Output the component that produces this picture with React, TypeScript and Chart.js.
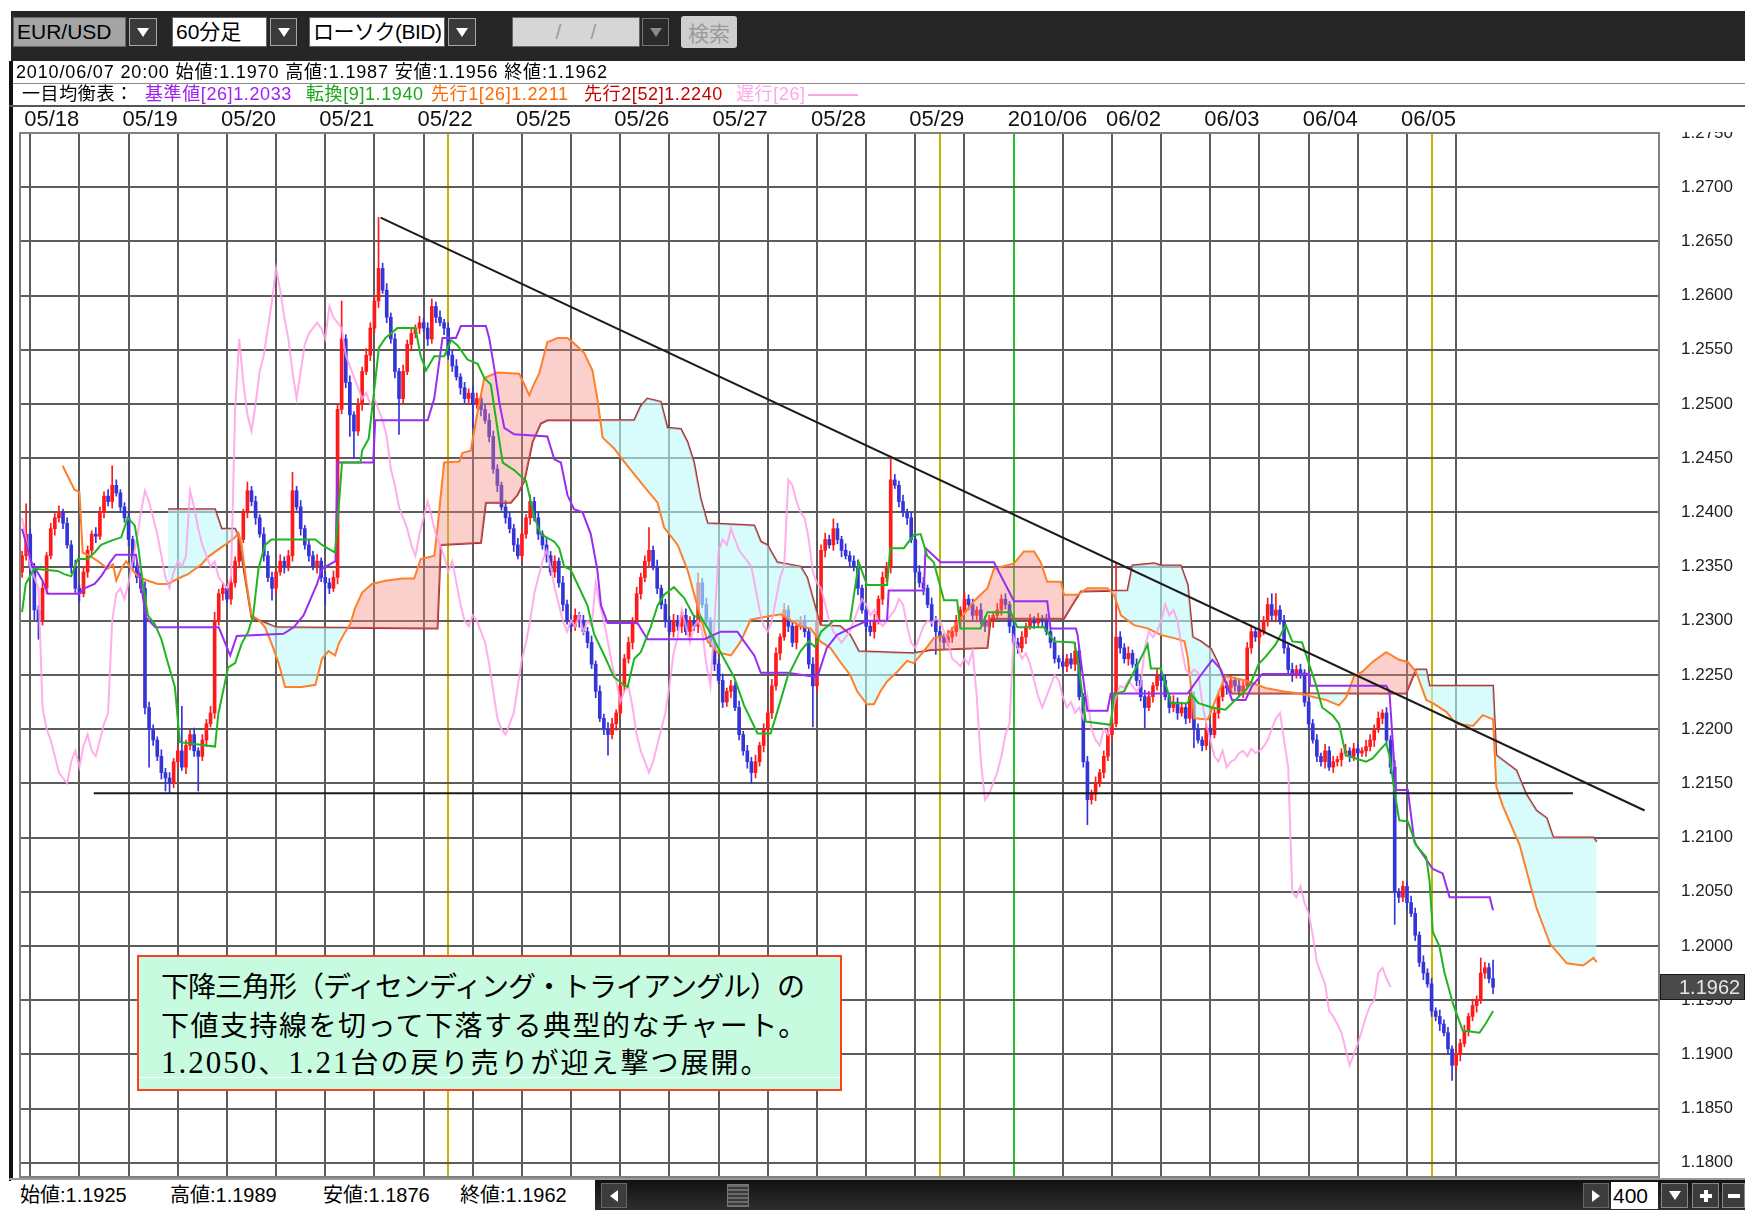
import React, { useEffect, useRef } from 'react';
import { Chart, registerables } from 'chart.js';

Chart.register(...registerables);

// ---------------- data (prices in 1/10000) ----------------
const FIRST_OPEN = 12345;
const closes = [
  12360, 12380, 12350, 12310, 12300, 12330, 12360, 12385, 12395, 12400,
  12390, 12370, 12350, 12330, 12325, 12345, 12365, 12380, 12378, 12400,
  12415, 12410, 12425, 12418, 12405, 12395, 12375, 12350, 12340, 12330,
  12220, 12200, 12190, 12175, 12160, 12155, 12150, 12170, 12180, 12165,
  12185, 12195, 12180, 12175, 12190, 12205, 12215, 12300, 12325, 12330,
  12320, 12335, 12355, 12375, 12400, 12420, 12410, 12395, 12380, 12360,
  12340, 12330, 12345, 12355, 12350, 12360, 12420, 12405, 12385, 12370,
  12360, 12350, 12355, 12340, 12335, 12330, 12340, 12495, 12560, 12520,
  12490, 12475, 12500, 12530, 12545, 12570, 12595, 12625, 12605, 12580,
  12560, 12530, 12505, 12530, 12555, 12565, 12570, 12575, 12570, 12560,
  12590, 12580, 12575, 12570, 12545, 12535, 12525, 12515, 12505, 12510,
  12500, 12505, 12495, 12485, 12470, 12440, 12425, 12405, 12395, 12385,
  12370, 12360, 12380, 12395, 12410, 12395, 12380, 12370, 12360, 12345,
  12355, 12335, 12315, 12300, 12295, 12305, 12300, 12290, 12280, 12260,
  12235, 12210, 12200, 12195, 12205, 12215, 12240, 12265, 12280, 12300,
  12325, 12340, 12355, 12365, 12350, 12330, 12315, 12300, 12290, 12300,
  12295, 12305, 12290, 12300, 12295, 12335, 12315, 12300, 12280, 12260,
  12245, 12225, 12235, 12240, 12220, 12195, 12180, 12170, 12160, 12170,
  12185, 12200, 12215, 12240, 12270, 12285, 12310, 12295, 12280, 12295,
  12300, 12290, 12260, 12240, 12300, 12365, 12375, 12370, 12385, 12375,
  12365, 12360, 12355, 12350, 12330, 12310, 12295, 12290, 12300, 12320,
  12340, 12350, 12430, 12425, 12410, 12400, 12395, 12375, 12345, 12335,
  12330, 12315, 12300, 12290, 12285, 12280, 12285, 12290, 12300, 12310,
  12320, 12315, 12305, 12310, 12300, 12295, 12300, 12305, 12310, 12320,
  12315, 12295, 12280, 12275, 12285, 12295, 12300, 12298, 12302, 12300,
  12290, 12280, 12265, 12262, 12258, 12265, 12260, 12272, 12230, 12170,
  12135, 12140, 12150, 12160, 12175, 12195, 12205, 12285, 12275, 12265,
  12270, 12260, 12245, 12230, 12220, 12230, 12240, 12250, 12245, 12230,
  12220, 12225, 12215, 12220, 12210, 12230, 12200, 12190, 12185, 12200,
  12195, 12215, 12230, 12240, 12238, 12245, 12240, 12235, 12240, 12275,
  12290, 12285, 12290, 12300, 12315, 12305, 12310, 12300, 12275, 12255,
  12250, 12255, 12252, 12225, 12205, 12190, 12175, 12170, 12180, 12165,
  12170, 12172, 12178, 12180, 12175, 12182, 12178, 12180, 12184, 12190,
  12200, 12210, 12215, 12190, 12165, 12050, 12045, 12055, 12040, 12030,
  12010, 11985, 11975, 11965, 11940, 11935, 11928, 11920, 11905, 11890,
  11900, 11910, 11922, 11935, 11945, 11950, 11975, 11980, 11970, 11962,
];
const upperWick = [
  4, 28, 5, 3, 4, 6, 3, 5, 4, 6, 3, 5, 4, 6, 3, 5, 4, 3, 6, 5,
  4, 6, 18, 5, 3, 4, 6, 3, 5, 4, 6, 5, 4, 3, 6, 4, 5, 3, 4, 41,
  5, 4, 6, 3, 5, 4, 6, 8, 4, 5, 3, 6, 4, 5, 3, 8, 4, 5, 3, 6,
  4, 5, 3, 6, 4, 5, 17, 4, 6, 3, 5, 4, 6, 3, 5, 4, 6, 5, 35, 4,
  6, 3, 5, 4, 6, 5, 4, 47, 5, 6, 4, 5, 3, 6, 4, 5, 3, 6, 4, 5,
  7, 4, 6, 3, 5, 4, 6, 3, 5, 4, 6, 5, 3, 4, 6, 5, 4, 3, 6, 5,
  4, 6, 5, 3, 6, 4, 5, 3, 6, 4, 5, 3, 6, 4, 5, 6, 3, 5, 4, 6,
  3, 5, 4, 6, 5, 3, 6, 4, 5, 3, 6, 4, 5, 21, 4, 6, 3, 5, 4, 6,
  5, 3, 6, 4, 5, 9, 4, 6, 3, 5, 4, 6, 3, 5, 4, 6, 3, 5, 4, 6,
  3, 5, 4, 6, 5, 3, 6, 4, 5, 6, 4, 5, 3, 6, 4, 5, 6, 4, 9, 5,
  3, 6, 4, 5, 6, 3, 5, 4, 6, 3, 5, 4, 22, 5, 4, 6, 3, 5, 4, 6,
  5, 3, 6, 4, 5, 3, 6, 4, 5, 3, 6, 4, 5, 3, 6, 4, 5, 3, 6, 4,
  5, 3, 6, 4, 5, 3, 6, 4, 5, 3, 6, 4, 5, 3, 6, 4, 5, 8, 4, 3,
  5, 4, 6, 3, 5, 4, 6, 69, 5, 4, 6, 3, 5, 4, 6, 5, 3, 6, 4, 5,
  3, 6, 4, 5, 3, 6, 4, 5, 3, 6, 4, 5, 3, 6, 4, 5, 3, 6, 4, 5,
  6, 3, 5, 4, 6, 10, 15, 4, 5, 3, 6, 4, 5, 3, 6, 4, 5, 3, 6, 4,
  5, 3, 4, 6, 3, 5, 4, 3, 6, 5, 4, 6, 3, 5, 4, 6, 3, 5, 4, 6,
  5, 3, 6, 4, 5, 3, 6, 4, 5, 3, 6, 4, 5, 3, 6, 4, 14, 5, 4, 17,
];
const lowerWick = [
  5, 4, 6, 9, 17, 4, 5, 3, 6, 4, 5, 3, 6, 4, 7, 3, 5, 4, 6, 3,
  5, 4, 6, 3, 5, 4, 6, 3, 5, 4, 6, 35, 5, 4, 6, 12, 9, 4, 5, 3,
  6, 4, 5, 32, 4, 6, 3, 5, 4, 6, 3, 5, 4, 6, 3, 5, 4, 6, 3, 5,
  4, 11, 5, 3, 6, 4, 5, 3, 6, 4, 5, 3, 6, 4, 20, 5, 3, 6, 4, 5,
  20, 25, 4, 6, 3, 5, 4, 6, 3, 5, 4, 6, 33, 5, 3, 6, 4, 5, 3, 6,
  4, 5, 3, 6, 4, 5, 3, 6, 4, 5, 22, 4, 6, 3, 5, 4, 6, 3, 5, 4,
  6, 3, 5, 4, 6, 3, 5, 4, 6, 3, 5, 4, 6, 3, 5, 4, 6, 3, 5, 4,
  6, 3, 5, 19, 4, 6, 3, 5, 4, 6, 3, 5, 4, 6, 3, 5, 4, 6, 3, 5,
  4, 6, 3, 5, 4, 6, 3, 5, 4, 6, 3, 5, 4, 6, 3, 5, 4, 6, 10, 5,
  4, 6, 3, 5, 4, 6, 3, 5, 4, 6, 3, 5, 4, 38, 5, 4, 6, 3, 5, 4,
  6, 3, 5, 4, 6, 3, 5, 4, 6, 3, 5, 4, 6, 3, 5, 4, 6, 3, 5, 4,
  6, 3, 5, 21, 4, 6, 3, 5, 4, 6, 3, 5, 4, 6, 3, 5, 4, 6, 3, 5,
  4, 6, 3, 5, 4, 6, 3, 5, 4, 6, 3, 5, 4, 6, 3, 5, 4, 6, 3, 5,
  23, 4, 6, 3, 5, 4, 6, 3, 5, 4, 6, 3, 5, 4, 19, 3, 5, 4, 6, 3,
  5, 4, 6, 3, 5, 4, 17, 3, 5, 4, 6, 3, 5, 4, 6, 3, 5, 4, 6, 3,
  5, 4, 6, 3, 5, 4, 6, 3, 5, 4, 6, 3, 5, 4, 6, 3, 5, 4, 6, 3,
  5, 4, 6, 3, 5, 4, 6, 3, 5, 4, 6, 3, 5, 4, 6, 30, 5, 4, 6, 3,
  5, 4, 6, 3, 5, 4, 6, 3, 5, 14, 4, 6, 3, 5, 4, 6, 3, 5, 4, 6,
];
const CHIKOU_SHIFT = 25;

// Ichimoku lines: [bar index, price]
const tenkanPts = [
  [0, 1.2308], [0.9, 1.2334], [3, 1.2348], [8.7, 1.2346], [10.3, 1.2343], [12, 1.2341], [13.6, 1.2357], [16, 1.2357],
  [17.7, 1.2363], [19.3, 1.237], [21.8, 1.2374], [24.2, 1.2377], [25.8, 1.2395], [27.5, 1.2388], [28.3, 1.237],
  [29.5, 1.2334], [30.7, 1.2305], [32.4, 1.2297], [34, 1.2283], [35.6, 1.2261], [37.3, 1.2239], [38.5, 1.2188],
  [47.1, 1.2184], [47.9, 1.2214], [50.3, 1.2257], [52, 1.2261], [53.6, 1.2279], [55.2, 1.229], [56.4, 1.2305],
  [57.7, 1.2348], [59.3, 1.237], [60.9, 1.2375], [71.6, 1.2375], [73.2, 1.237], [76.4, 1.2363], [77.3, 1.2406],
  [78.1, 1.2446], [82.6, 1.2446], [83, 1.2457], [84.6, 1.2468], [85.8, 1.2508], [87.1, 1.2552], [88.7, 1.2561],
  [91.6, 1.257], [96, 1.257], [97.3, 1.2544], [98.6, 1.2531], [100.6, 1.2544], [103, 1.2544], [104.7, 1.2559],
  [106.3, 1.2554], [108.7, 1.2541], [111.2, 1.2537], [112.8, 1.2524], [114.4, 1.2518], [116, 1.2478], [117.3, 1.2446],
  [120.1, 1.2439], [123, 1.2429], [125, 1.2396], [126.6, 1.238], [129.9, 1.2373], [131.1, 1.2367], [132.3, 1.235],
  [133.9, 1.2347], [136.4, 1.2327], [138, 1.2314], [139.6, 1.2288], [142.1, 1.2268], [144.5, 1.2248], [146.5, 1.2242],
  [147.8, 1.2239], [149.4, 1.2265], [151, 1.2271], [153.4, 1.2294], [155.1, 1.2314], [156.7, 1.2324], [159.1, 1.2331],
  [161.6, 1.2321], [164, 1.2304], [165.6, 1.2304], [168.1, 1.2288], [171.3, 1.2265], [173.8, 1.2248], [176.2, 1.2222],
  [179.5, 1.2196], [182.7, 1.2196], [184.3, 1.2216], [186.8, 1.2248], [190, 1.2272], [192, 1.2281], [193.5, 1.2276],
  [195, 1.229], [198.1, 1.23], [202.1, 1.23], [204.2, 1.2354], [206.2, 1.2333], [211.1, 1.2333], [211.9, 1.2367],
  [215.2, 1.2367], [217.6, 1.2379], [219.3, 1.238], [220.9, 1.236], [222.5, 1.2354], [225, 1.2319], [228.2, 1.2319],
  [229, 1.2293], [233.9, 1.2293], [235.6, 1.2308], [241.3, 1.2308], [242.9, 1.2294], [249.4, 1.2294], [251.9, 1.2281],
  [256.8, 1.228], [257.6, 1.2266], [259.6, 1.2207], [265.7, 1.2204], [266.5, 1.2232], [269, 1.2235], [274.7, 1.2278],
  [275.5, 1.2256], [277.9, 1.2256], [279.6, 1.2235], [280.4, 1.2224], [284.5, 1.2224], [285.3, 1.2232], [287.1, 1.2224],
  [290.4, 1.222], [293.7, 1.2218], [296.1, 1.2227], [298.6, 1.2236], [299.8, 1.2242], [301.8, 1.226], [303.5, 1.2267],
  [305.9, 1.2278], [308.4, 1.2296], [310, 1.2281], [312.4, 1.228], [314.1, 1.226], [315.7, 1.2242], [317.3, 1.222],
  [319.8, 1.2213], [321.4, 1.2205], [323.1, 1.2176], [325.5, 1.2173], [328, 1.217], [329.6, 1.2173], [331.2, 1.218],
  [332.9, 1.2187], [333.7, 1.2176], [334.9, 1.2144], [336.1, 1.2116], [338.2, 1.2115], [340.2, 1.2093], [342.7, 1.2082],
  [343.5, 1.206], [344.3, 1.2013], [345.9, 1.2], [347.1, 1.1976], [349.2, 1.1947], [351.6, 1.1922], [355.7, 1.192],
  [357.3, 1.1929], [359, 1.194],
];
const kijunPts = [
  [0, 1.2385], [2.2, 1.2355], [5, 1.2337], [6.3, 1.2325], [14, 1.2325], [15.2, 1.233], [17.7, 1.2334], [19.3, 1.2341],
  [21.7, 1.2355], [22.9, 1.2361], [27.8, 1.2361], [30.3, 1.2303], [32.5, 1.2294], [48, 1.2294], [50.8, 1.2268],
  [52.4, 1.2286], [63.8, 1.2288], [66.3, 1.2294], [68.7, 1.2305], [70.3, 1.2319], [72, 1.2334], [73.2, 1.2348],
  [76.5, 1.2355], [77, 1.2446], [85.7, 1.2446], [86.2, 1.2485], [99, 1.2485], [100.6, 1.2505], [102.6, 1.2561],
  [105.9, 1.2561], [107.1, 1.2572], [113.2, 1.2572], [114, 1.2561], [115.2, 1.2534], [116.5, 1.2501], [117.7, 1.2478],
  [120.1, 1.2472], [128.2, 1.247], [129.9, 1.2449], [131.5, 1.2446], [133.1, 1.2416], [134.7, 1.2403], [136.8, 1.24],
  [138.8, 1.238], [140.4, 1.2347], [141.3, 1.2314], [142.9, 1.2298], [150.2, 1.2298], [152.6, 1.2283], [166.5, 1.2283],
  [170.5, 1.229], [174.6, 1.229], [176.2, 1.2281], [178.7, 1.2268], [180.3, 1.2252], [186.8, 1.2252], [194.1, 1.2248],
  [196.4, 1.2275], [198.9, 1.2287], [202.1, 1.2293], [206.2, 1.23], [211.1, 1.23], [211.5, 1.2328], [220.1, 1.2328],
  [220.5, 1.2367], [224.2, 1.2354], [237.2, 1.2354], [238, 1.2348], [242.1, 1.2318], [250.2, 1.2318], [251, 1.2293],
  [257.2, 1.2293], [257.6, 1.2287], [260, 1.2217], [264.9, 1.2217], [265.7, 1.2233], [284.5, 1.2233], [287.7, 1.225],
  [290.5, 1.2264], [292.6, 1.2255], [295.3, 1.2227], [298.6, 1.2227], [300.2, 1.224], [302.7, 1.2251], [314.1, 1.2251],
  [314.3, 1.224], [332.9, 1.224], [333.7, 1.2235], [335.3, 1.2144], [338.2, 1.2144], [339.8, 1.2096], [341, 1.2089],
  [344.3, 1.2071], [346.7, 1.2067], [348.4, 1.2045], [358.2, 1.2045], [359, 1.2033],
];
const senkouAPts = [
  [9.9, 1.2443], [12.8, 1.2421], [14, 1.2419], [14.8, 1.2363], [16.9, 1.2359], [18.5, 1.2355], [20.9, 1.2348],
  [22.2, 1.2352], [23, 1.2337], [24.2, 1.2348], [25.4, 1.2355], [26.7, 1.2348], [28.3, 1.2341], [30.7, 1.2337],
  [33.2, 1.2334], [35.6, 1.2334], [38.1, 1.2339], [40.5, 1.2343], [43.8, 1.2352], [45.4, 1.2359], [48.7, 1.2368],
  [50.3, 1.2372], [52, 1.2377], [52.8, 1.2381], [53.6, 1.237], [54.8, 1.2334], [56, 1.2305], [57.7, 1.2301],
  [59.3, 1.2294], [60.9, 1.2279], [62.6, 1.2261], [64.2, 1.2239], [68.3, 1.2239], [71.6, 1.2241], [73.2, 1.2265],
  [74.8, 1.2272], [76.4, 1.2268], [77.3, 1.2279], [78.9, 1.229], [80.1, 1.2297], [81.3, 1.2312], [83, 1.2326],
  [85.4, 1.2334], [88.7, 1.2337], [92.8, 1.2339], [95.7, 1.2339], [97.3, 1.2357], [100.6, 1.236], [101.4, 1.2386],
  [103, 1.2446], [106.7, 1.2447], [107.5, 1.2455], [109.5, 1.2457], [110.8, 1.2485], [112.8, 1.2524], [116, 1.2529],
  [121.3, 1.2528], [122.6, 1.2518], [123.8, 1.2508], [125, 1.2519], [126.2, 1.2528], [128.2, 1.2557], [130.7, 1.2561],
  [133.1, 1.2561], [134.7, 1.2556], [137.2, 1.2547], [139.2, 1.2531], [140.4, 1.2505], [141.7, 1.2469], [144.5, 1.2459],
  [146.5, 1.2449], [148.6, 1.2439], [151.8, 1.2424], [155.1, 1.2409], [156.7, 1.2386], [160, 1.237], [162.4, 1.2347],
  [164.8, 1.2314], [167.3, 1.2281], [169.7, 1.2271], [173, 1.2268], [175.4, 1.2281], [177.8, 1.2301], [181.9, 1.2304],
  [185.2, 1.2306], [189.9, 1.2295], [192.4, 1.2293], [194.8, 1.2281], [197.3, 1.2275], [199.7, 1.2262], [202.1, 1.225],
  [203.8, 1.2235], [206.2, 1.2223], [207.9, 1.2223], [209.5, 1.2235], [211.1, 1.2244], [213.6, 1.2253], [216, 1.2263],
  [217.6, 1.2261], [220.1, 1.2272], [222.5, 1.2284], [225.8, 1.2287], [229, 1.2302], [232.3, 1.2318], [235.6, 1.233],
  [237.2, 1.2348], [242.1, 1.2353], [244.5, 1.2364], [247, 1.2364], [248.6, 1.2354], [250.2, 1.2336], [253.5, 1.2336],
  [254.3, 1.2324], [257.6, 1.2324], [260, 1.233], [264.9, 1.233], [266.5, 1.2324], [268.2, 1.2305], [271.4, 1.2296],
  [274.7, 1.2293], [277.9, 1.2287], [281.2, 1.2284], [283.7, 1.2281], [284.5, 1.2266], [286.1, 1.221], [289.4, 1.2209],
  [291.8, 1.2232], [293.7, 1.2249], [298.6, 1.2245], [303.5, 1.2238], [307.6, 1.2235], [311.6, 1.2233], [318.2, 1.2227],
  [321.4, 1.2222], [323.1, 1.2229], [325.1, 1.2249], [327.1, 1.2253], [329.6, 1.2262], [332.9, 1.2271], [336.1, 1.2264],
  [338.2, 1.2262], [340.2, 1.2253], [342.7, 1.2227], [344.3, 1.2224], [347.6, 1.2216], [350, 1.2205], [354.1, 1.2203],
  [356.5, 1.2213], [359, 1.2209], [359.8, 1.2147], [361.4, 1.2129], [365.5, 1.2093], [369.6, 1.2035], [372.9, 1.2002],
  [377, 1.1984], [381, 1.1982], [383.5, 1.1989], [384.3, 1.1985],
];
const senkouBPts = [
  [35.6, 1.2403], [47.1, 1.2403], [48.7, 1.2385], [52, 1.2385], [52.8, 1.2378], [56, 1.2303], [60.1, 1.2297],
  [62, 1.2294], [101.4, 1.2293], [102.2, 1.237], [112, 1.2372], [113.2, 1.2409], [119.3, 1.2409], [120.9, 1.2416],
  [122.6, 1.2429], [124.6, 1.2465], [126.6, 1.2482], [128.2, 1.2485], [149.4, 1.2485], [151, 1.2498], [152.6, 1.2505],
  [155.9, 1.2502], [157.5, 1.2478], [160.8, 1.2477], [162.4, 1.2465], [164, 1.2446], [165.6, 1.2413], [167.3, 1.239],
  [178.7, 1.2388], [180.3, 1.2373], [181.9, 1.237], [184.3, 1.2354], [190, 1.235], [191.6, 1.234], [193.2, 1.2318],
  [194.8, 1.2296], [199.7, 1.2295], [202.1, 1.2287], [204.2, 1.2272], [217.6, 1.227], [221.7, 1.2273], [235.6, 1.2275],
  [236.4, 1.2302], [254.3, 1.2302], [255.9, 1.2312], [258.4, 1.2327], [269.8, 1.2328], [271, 1.2351], [276.3, 1.2353],
  [277.9, 1.2351], [282.8, 1.2351], [284.5, 1.2333], [285.7, 1.2285], [287.7, 1.2281], [290.2, 1.2274], [292, 1.226],
  [292.9, 1.2249], [295.3, 1.2233], [337.8, 1.2233], [340.2, 1.2255], [342.7, 1.2255], [343.5, 1.224], [359, 1.224],
  [359.8, 1.2176], [362.2, 1.2169], [364.7, 1.2162], [367.1, 1.214], [369.6, 1.2125], [372.1, 1.2118], [373.7, 1.21],
  [383.5, 1.21], [384.3, 1.2096],
];
const trendLinePts = [[87.5, 1.2672], [396, 1.2125]];
const supportLinePts = [[17.5, 1.2141], [378.5, 1.2141]];

// axes
const X_MIN = -0.5;
const X_MAX = 399.5;
const Y_MIN = 1.17869;
const Y_MAX = 1.275;
const dayStarts = [2, 26, 50, 74, 98, 122, 146, 170, 194, 218, 242, 266, 290, 314, 338];
const dayLabels = ['05/18', '05/19', '05/20', '05/21', '05/22', '05/25', '05/26', '05/27', '05/28', '05/29', '2010/06', '06/02', '06/03', '06/04', '06/05'];
const gridTicks = [2, 14, 26, 38, 50, 62, 74, 86, 98, 110, 122, 134, 146, 158, 170, 182, 194, 206, 218, 230, 242, 254, 266, 278, 290, 302, 314, 326, 338, 350];
const weekMarks = [104, 224, 344];
const monthMark = 242;
const yTicks = [1.18, 1.185, 1.19, 1.195, 1.2, 1.205, 1.21, 1.215, 1.22, 1.225, 1.23, 1.235, 1.24, 1.245, 1.25, 1.255, 1.26, 1.265, 1.27, 1.275];

const RED = '#ff1a1a';
const BLUE = '#3434d8';
const SANS = '"Liberation Sans", Arial, "Noto Sans CJK JP", sans-serif';
const JP = '"Noto Sans CJK JP", "Noto Sans", sans-serif';

const Tri = ({ color = '#fff', dir = 'down', s = 6 }: any) => {
  const st: any = { width: 0, height: 0 };
  if (dir === 'down') Object.assign(st, { borderLeft: `${s}px solid transparent`, borderRight: `${s}px solid transparent`, borderTop: `${s + 3}px solid ${color}` });
  if (dir === 'left') Object.assign(st, { borderTop: `${s}px solid transparent`, borderBottom: `${s}px solid transparent`, borderRight: `${s + 2}px solid ${color}` });
  if (dir === 'right') Object.assign(st, { borderTop: `${s}px solid transparent`, borderBottom: `${s}px solid transparent`, borderLeft: `${s + 2}px solid ${color}` });
  return <div style={st} />;
};

const Btn = ({ left, top, w, h, bg = '#3a3a3a', border = '#a8a8a8', children }: any) => (
  <div style={{ position: 'absolute', left, top, width: w, height: h, boxSizing: 'border-box', background: bg, border: `1px solid ${border}`, display: 'flex', alignItems: 'center', justifyContent: 'center' }}>
    {children}
  </div>
);

const TextBox = ({ left, top, w, h, bg, color = '#000', size = 21, children, center = false, ls = 0 }: any) => (
  <div style={{ position: 'absolute', left, top, width: w, height: h, boxSizing: 'border-box', background: bg, color, fontSize: size, lineHeight: `${h - 2}px`, fontFamily: SANS, paddingLeft: center ? 0 : 3, textAlign: center ? 'center' : 'left', letterSpacing: ls, whiteSpace: 'nowrap', overflow: 'hidden', border: '1px solid #666' }}>
    {children}
  </div>
);

export default function App() {
  const canvasRef = useRef<HTMLCanvasElement>(null);

  useEffect(() => {
    const P = (v: number) => v / 10000;
    const opens = closes.map((c, i) => (i === 0 ? FIRST_OPEN : closes[i - 1]));
    const colors = closes.map((c, i) => (c >= opens[i] ? RED : BLUE));
    const bodies = closes.map((c, i) => ({ x: i, y: [P(opens[i]), P(c)] }));
    const wicks = closes.map((c, i) => ({
      x: i,
      y: [P(Math.min(opens[i], c) - lowerWick[i]), P(Math.max(opens[i], c) + upperWick[i])],
    }));
    const pts = (arr: number[][]) => arr.map(([x, y]) => ({ x, y }));
    const chikou = closes.map((c, i) => ({ x: i - CHIKOU_SHIFT, y: P(c) })).filter((p) => p.x >= 0);
    const lastClose = P(closes[closes.length - 1]);
    const xTicks = [...gridTicks, ...weekMarks].sort((a, b) => a - b);

    const lineDs = (data: any, color: string, order: number, extra: any = {}) => ({
      type: 'line', data, borderColor: color, borderWidth: 2, pointRadius: 0, tension: 0, order, fill: false, ...extra,
    });

    const overlay = {
      id: 'overlay',
      afterDraw(chart: any) {
        const { ctx, chartArea: a, scales } = chart;
        ctx.save();
        ctx.strokeStyle = '#808080';
        ctx.lineWidth = 2;
        ctx.strokeRect(a.left, a.top, a.right - a.left, a.bottom - a.top);
        const py = Math.round(scales.y.getPixelForValue(lastClose));
        ctx.fillStyle = '#4a4a4a';
        ctx.fillRect(a.right + 1, py - 13, 1745 - a.right, 26);
        ctx.strokeStyle = '#1a1a1a';
        ctx.lineWidth = 1;
        ctx.strokeRect(a.right + 1.5, py - 12.5, 1745 - a.right - 2, 25);
        ctx.fillStyle = '#e6e6e6';
        ctx.font = '20px "Liberation Sans", Arial, sans-serif';
        ctx.textBaseline = 'middle';
        ctx.fillText(lastClose.toFixed(4), a.right + 20, py + 1);
        ctx.restore();
      },
    };

    const chart = new Chart(canvasRef.current as HTMLCanvasElement, {
      type: 'bar',
      data: {
        datasets: [
          { type: 'bar', data: wicks, backgroundColor: colors, barThickness: 1, grouped: false, borderWidth: 0, order: 30 } as any,
          { type: 'bar', data: bodies, backgroundColor: colors, barThickness: 3, grouped: false, borderWidth: 0, minBarLength: 2, order: 29 } as any,
          lineDs(pts(senkouBPts), '#a83030', 12),
          lineDs(pts(senkouAPts), '#ff7f2a', 11, {
            fill: { target: 2, above: 'rgba(245,130,120,0.38)', below: 'rgba(190,250,250,0.6)' },
          }),
          lineDs(chikou, 'rgba(255,160,232,0.85)', 9),
          lineDs(pts(kijunPts), '#9a2cf2', 6),
          lineDs(pts(tenkanPts), '#1fb51f', 5),
          lineDs(pts(trendLinePts), '#1c1c1c', 2),
          lineDs(pts(supportLinePts), '#1c1c1c', 1),
        ] as any,
      },
      options: {
        responsive: false,
        maintainAspectRatio: false,
        animation: false,
        devicePixelRatio: 1,
        events: [],
        layout: { padding: { left: 20, top: 107, right: 0, bottom: 33 } },
        plugins: { legend: { display: false }, tooltip: { enabled: false }, filler: { propagate: false } },
        scales: {
          x: {
            type: 'linear',
            position: 'top',
            min: X_MIN,
            max: X_MAX,
            offset: false,
            afterBuildTicks: (s: any) => { s.ticks = xTicks.map((v) => ({ value: v })); },
            afterFit: (s: any) => { s.height = 26; },
            ticks: {
              autoSkip: false,
              maxRotation: 0,
              minRotation: 0,
              align: 'start',
              labelOffset: -6,
              padding: 0,
              color: '#111',
              font: { size: 22, family: SANS },
              callback: (v: any) => {
                const k = dayStarts.indexOf(Number(v));
                return k >= 0 ? dayLabels[k] : '';
              },
            },
            grid: {
              offset: false,
              drawTicks: false,
              lineWidth: 2,
              color: (c: any) => {
                const v = c.tick ? c.tick.value : null;
                if (weekMarks.includes(v)) return '#c4b400';
                if (v === monthMark) return '#22c422';
                return '#5c5c5c';
              },
            },
            border: { display: true, color: '#808080', width: 2 },
          },
          y: {
            type: 'linear',
            position: 'right',
            min: Y_MIN,
            max: Y_MAX,
            afterBuildTicks: (s: any) => { s.ticks = yTicks.map((v) => ({ value: v })); },
            afterFit: (s: any) => { s.width = 86; },
            ticks: {
              autoSkip: false,
              padding: 22,
              color: '#222',
              font: { size: 17, family: SANS },
              callback: (v: any) => Number(v).toFixed(4),
            },
            grid: { drawTicks: false, lineWidth: 2, color: '#5c5c5c' },
            border: { display: true, color: '#808080', width: 2 },
          },
        },
      } as any,
      plugins: [overlay],
    });
    return () => chart.destroy();
  }, []);

  return (
    <div style={{ position: 'fixed', left: 0, top: 0, width: 1745, height: 1210, background: '#fff', overflow: 'hidden', fontFamily: SANS }}>
      <canvas ref={canvasRef} width={1745} height={1210} style={{ position: 'absolute', left: 0, top: 0, display: 'block' }} />

      {/* toolbar */}
      <div style={{ position: 'absolute', left: 11, top: 11, width: 1734, height: 50, background: '#262626' }} />
      <TextBox left={13} top={17} w={113} h={30} bg="#a4a4a4">EUR/USD</TextBox>
      <Btn left={129} top={18} w={28} h={28}><Tri /></Btn>
      <TextBox left={172} top={17} w={95} h={30} bg="#fff">60分足</TextBox>
      <Btn left={270} top={18} w={27} h={28}><Tri /></Btn>
      <TextBox left={309} top={17} w={136} h={30} bg="#fff" ls={-0.5}>ローソク(BID)</TextBox>
      <Btn left={448} top={18} w={28} h={28}><Tri /></Btn>
      <TextBox left={512} top={17} w={128} h={30} bg="#d6d6d6" color="#9a9a9a" center>/&nbsp;&nbsp;&nbsp;&nbsp;&nbsp;/</TextBox>
      <Btn left={642} top={18} w={27} h={28} bg="#2a2a2a" border="#777"><Tri color="#8a8a8a" /></Btn>
      <div style={{ position: 'absolute', left: 681, top: 16, width: 56, height: 32, background: '#cfcfcf', borderRadius: 3, color: '#9a9a9a', fontSize: 21, lineHeight: '32px', textAlign: 'center', fontFamily: JP }}>検索</div>

      {/* info rows */}
      <div style={{ position: 'absolute', left: 9, top: 61, width: 4, height: 1120, background: '#111' }} />
      <div style={{ position: 'absolute', left: 13, top: 83, width: 1732, height: 1, background: '#8a8a8a' }} />
      <div style={{ position: 'absolute', left: 9, top: 105, width: 1736, height: 2, background: '#555' }} />
      <div style={{ position: 'absolute', left: 16, top: 61, height: 22, lineHeight: '22px', fontSize: 18, letterSpacing: 0.85, color: '#000', whiteSpace: 'nowrap' }}>
        2010/06/07 20:00 始値:1.1970 高値:1.1987 安値:1.1956 終値:1.1962
      </div>
      <div style={{ position: 'absolute', left: 22, top: 84, height: 21, lineHeight: '21px', fontSize: 18, letterSpacing: 0.6, whiteSpace: 'nowrap' }}>
        <span style={{ position: 'absolute', left: 0, color: '#000' }}>一目均衡表：</span>
        <span style={{ position: 'absolute', left: 123, color: '#a020f0' }}>基準値[26]1.2033</span>
        <span style={{ position: 'absolute', left: 284, color: '#1aa81a' }}>転換[9]1.1940</span>
        <span style={{ position: 'absolute', left: 409, color: '#ff6a00' }}>先行1[26]1.2211</span>
        <span style={{ position: 'absolute', left: 562, color: '#c40000' }}>先行2[52]1.2240</span>
        <span style={{ position: 'absolute', left: 714, color: '#ffa6e8' }}>遅行[26]</span>
        <span style={{ position: 'absolute', left: 786, top: 10, width: 50, height: 2, background: '#ffa6e8' }} />
      </div>
      {/* clip top of first y label */}
      <div style={{ position: 'absolute', left: 1661, top: 107, width: 84, height: 25, background: '#fff' }} />

      {/* annotation */}
      <div style={{ position: 'absolute', left: 137, top: 955, width: 705, height: 136, boxSizing: 'border-box', border: '2px solid #ff3d1f', background: '#c7fbe0' }}>
        <div style={{ position: 'absolute', left: 22, top: 10, fontFamily: JP, fontSize: 28, lineHeight: '36px', letterSpacing: -1.0, whiteSpace: 'nowrap', color: '#000' }}>
          下降三角形（ディセンディング・トライアングル）の
        </div>
        <div style={{ position: 'absolute', left: 22, top: 49, fontFamily: JP, fontSize: 28, lineHeight: '36px', letterSpacing: 1.5, whiteSpace: 'nowrap', color: '#000' }}>
          下値支持線を切って下落する典型的なチャート。
        </div>
        <div style={{ position: 'absolute', left: 22, top: 86, fontFamily: '"Liberation Serif", "Noto Sans CJK JP", serif', fontSize: 28, lineHeight: '36px', letterSpacing: 2.0, whiteSpace: 'nowrap', color: '#000' }}>
          <span style={{ fontSize: 31 }}>1.2050</span>、<span style={{ fontSize: 31 }}>1.21</span>
          <span style={{ fontFamily: JP }}>台の戻り売りが迎え撃つ展開。</span>
        </div>
        <div style={{ position: 'absolute', left: 0, right: 0, top: 120, height: 1, background: '#fff' }} />
      </div>

      {/* status bar */}
      <div style={{ position: 'absolute', left: 9, top: 1178, width: 1736, height: 2, background: '#999' }} />
      <div style={{ position: 'absolute', left: 11, top: 1180, width: 584, height: 30, background: '#fff', fontSize: 20, lineHeight: '30px', color: '#000', whiteSpace: 'nowrap' }}>
        <span style={{ position: 'absolute', left: 9 }}>始値:1.1925</span>
        <span style={{ position: 'absolute', left: 159 }}>高値:1.1989</span>
        <span style={{ position: 'absolute', left: 312 }}>安値:1.1876</span>
        <span style={{ position: 'absolute', left: 449 }}>終値:1.1962</span>
      </div>
      <div style={{ position: 'absolute', left: 595, top: 1180, width: 1150, height: 30, background: 'linear-gradient(#111, #2e2e2e)' }} />
      <Btn left={601} top={1183} w={26} h={25} bg="#3c3c3c" border="#666"><Tri dir="left" /></Btn>
      <div style={{ position: 'absolute', left: 727, top: 1184, width: 22, height: 23, background: 'repeating-linear-gradient(#6a6a6a 0 2px, #3a3a3a 2px 4px)', border: '1px solid #777', boxSizing: 'border-box' }} />
      <Btn left={1583} top={1183} w={26} h={25} bg="#3c3c3c" border="#666"><Tri dir="right" /></Btn>
      <div style={{ position: 'absolute', left: 1611, top: 1182, width: 47, height: 27, background: '#fff', fontSize: 21, lineHeight: '27px', paddingLeft: 2, boxSizing: 'border-box' }}>400</div>
      <Btn left={1661} top={1183} w={27} h={25} bg="#3c3c3c" border="#888"><Tri /></Btn>
      <Btn left={1692} top={1183} w={27} h={25} bg="#3c3c3c" border="#888">
        <div style={{ position: 'relative', width: 12, height: 12 }}>
          <div style={{ position: 'absolute', left: 4, top: 0, width: 4, height: 12, background: '#fff' }} />
          <div style={{ position: 'absolute', left: 0, top: 4, width: 12, height: 4, background: '#fff' }} />
        </div>
      </Btn>
      <Btn left={1722} top={1183} w={23} h={25} bg="#3c3c3c" border="#888">
        <div style={{ width: 12, height: 4, background: '#fff' }} />
      </Btn>
    </div>
  );
}
